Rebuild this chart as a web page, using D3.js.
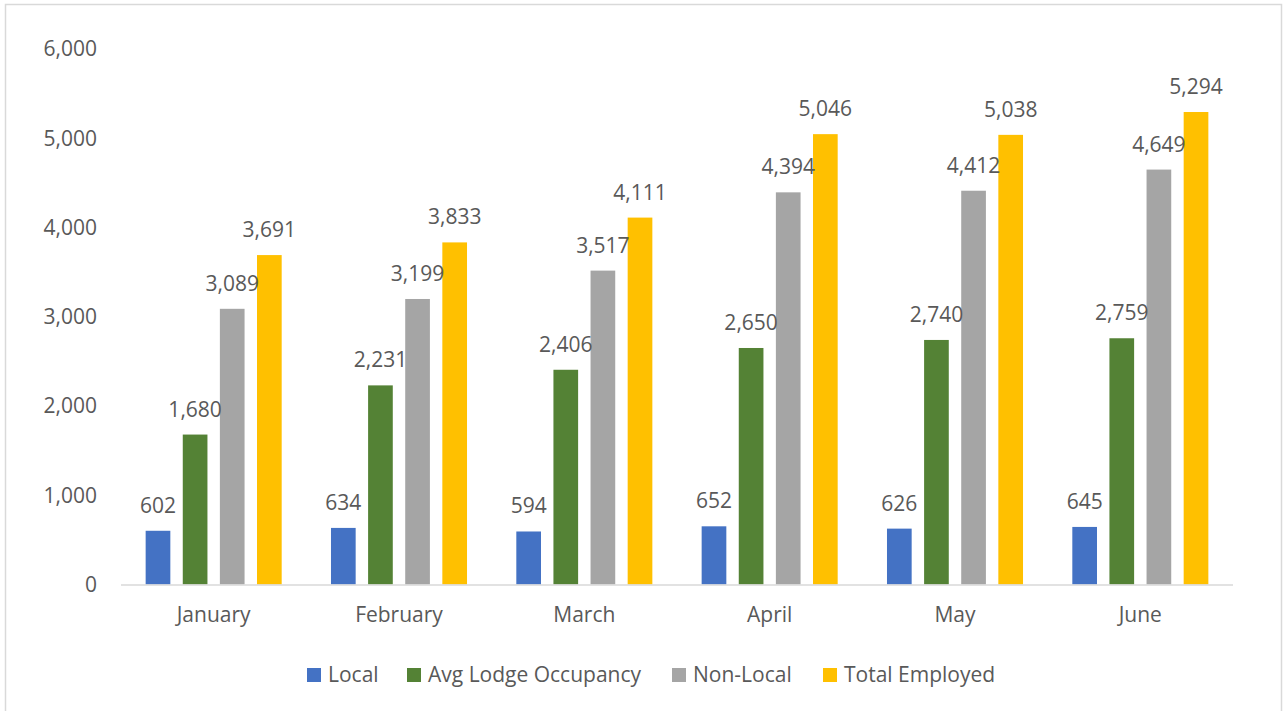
<!DOCTYPE html>
<html>
<head>
<meta charset="utf-8">
<script src="https://d3js.org/d3.v7.min.js"></script>
<style>
  body { margin: 0; background: #fff; }
  svg text { font-family: "Open Sans", sans-serif; fill: #595959; }
</style>
</head>
<body>
<div id="chart"></div>
<script>
// chart values
var months = ["January", "February", "March", "April", "May", "June"];
var seriesNames = ["Local", "Avg Lodge Occupancy", "Non-Local", "Total Employed"];
var local = [602, 634, 594, 652, 626, 645];
var avgLodge = [1680, 2231, 2406, 2650, 2740, 2759];
var nonLocal = [3089, 3199, 3517, 4394, 4412, 4649];
var totalEmployed = [3691, 3833, 4111, 5046, 5038, 5294];
var yTicks = [0, 1000, 2000, 3000, 4000, 5000, 6000];

var colors = ["#4472C4", "#548235", "#A5A5A5", "#FFC000"];
var seriesValues = [local, avgLodge, nonLocal, totalEmployed];

var svgWidth = 1283, svgHeight = 711;
var plotLeft = 121, plotRight = 1233, plotTop = 49, plotBottom = 584.5;

var svg = d3.select("#chart").append("svg")
    .attr("width", svgWidth)
    .attr("height", svgHeight);

// frame
svg.append("rect")
    .attr("x", 5.5).attr("y", 4.5)
    .attr("width", 1276).attr("height", 712)
    .attr("fill", "none")
    .attr("stroke", "#D9D9D9")
    .attr("stroke-width", 1.5);

var x0 = d3.scaleBand()
    .domain(months)
    .range([plotLeft, plotRight])
    .paddingInner(0.266)
    .paddingOuter(0.133);

var x1 = d3.scaleBand()
    .domain(d3.range(seriesNames.length))
    .range([0, x0.bandwidth()])
    .paddingInner(0.335);

var y = d3.scaleLinear()
    .domain([0, 6000])
    .range([plotBottom, plotTop]);

var fmt = d3.format(",");

// y tick labels
svg.selectAll(".ytick")
    .data(yTicks).enter().append("text")
    .attr("class", "ytick")
    .attr("x", 97)
    .attr("y", function(d){ return y(d); })
    .attr("dy", "0.35em")
    .attr("text-anchor", "end")
    .attr("font-size", 21)
    .text(function(d){ return fmt(d); });

// bars
var groups = svg.selectAll(".grp")
    .data(months).enter().append("g")
    .attr("class", "grp")
    .attr("transform", function(d){ return "translate(" + x0(d) + ",0)"; });

groups.selectAll("rect")
    .data(function(d, i){
        return seriesValues.map(function(s, j){ return {s: j, v: s[i]}; });
    })
    .enter().append("rect")
    .attr("x", function(d){ return x1(d.s); })
    .attr("y", function(d){ return y(d.v); })
    .attr("width", x1.bandwidth())
    .attr("height", function(d){ return plotBottom - y(d.v); })
    .attr("fill", function(d){ return colors[d.s]; });

groups.selectAll(".lbl")
    .data(function(d, i){
        return seriesValues.map(function(s, j){ return {s: j, v: s[i]}; });
    })
    .enter().append("text")
    .attr("class", "lbl")
    .attr("x", function(d){ return x1(d.s) + x1.bandwidth() / 2; })
    .attr("y", function(d){ return y(d.v) - 18; })
    .attr("text-anchor", "middle")
    .attr("font-size", 21)
    .text(function(d){ return fmt(d.v); });

// x axis line
svg.append("line")
    .attr("x1", plotLeft).attr("x2", plotRight)
    .attr("y1", plotBottom + 0.5).attr("y2", plotBottom + 0.5)
    .attr("stroke", "#D9D9D9")
    .attr("stroke-width", 1.5);

// x labels
svg.selectAll(".xlbl")
    .data(months).enter().append("text")
    .attr("class", "xlbl")
    .attr("x", function(d){ return x0(d) + x0.bandwidth() / 2; })
    .attr("y", 615)
    .attr("dy", "0.35em")
    .attr("text-anchor", "middle")
    .attr("font-size", 21)
    .text(function(d){ return d; });

// legend
var legendX = [307, 407, 672, 823];
var legend = svg.selectAll(".leg")
    .data(seriesNames).enter().append("g")
    .attr("class", "leg")
    .attr("transform", function(d, i){ return "translate(" + legendX[i] + ",668)"; });

legend.append("rect")
    .attr("width", 14).attr("height", 14)
    .attr("fill", function(d, i){ return colors[i]; });

legend.append("text")
    .attr("x", 21)
    .attr("y", 7)
    .attr("dy", "0.35em")
    .attr("font-size", 21)
    .text(function(d){ return d; });
</script>
</body>
</html>
